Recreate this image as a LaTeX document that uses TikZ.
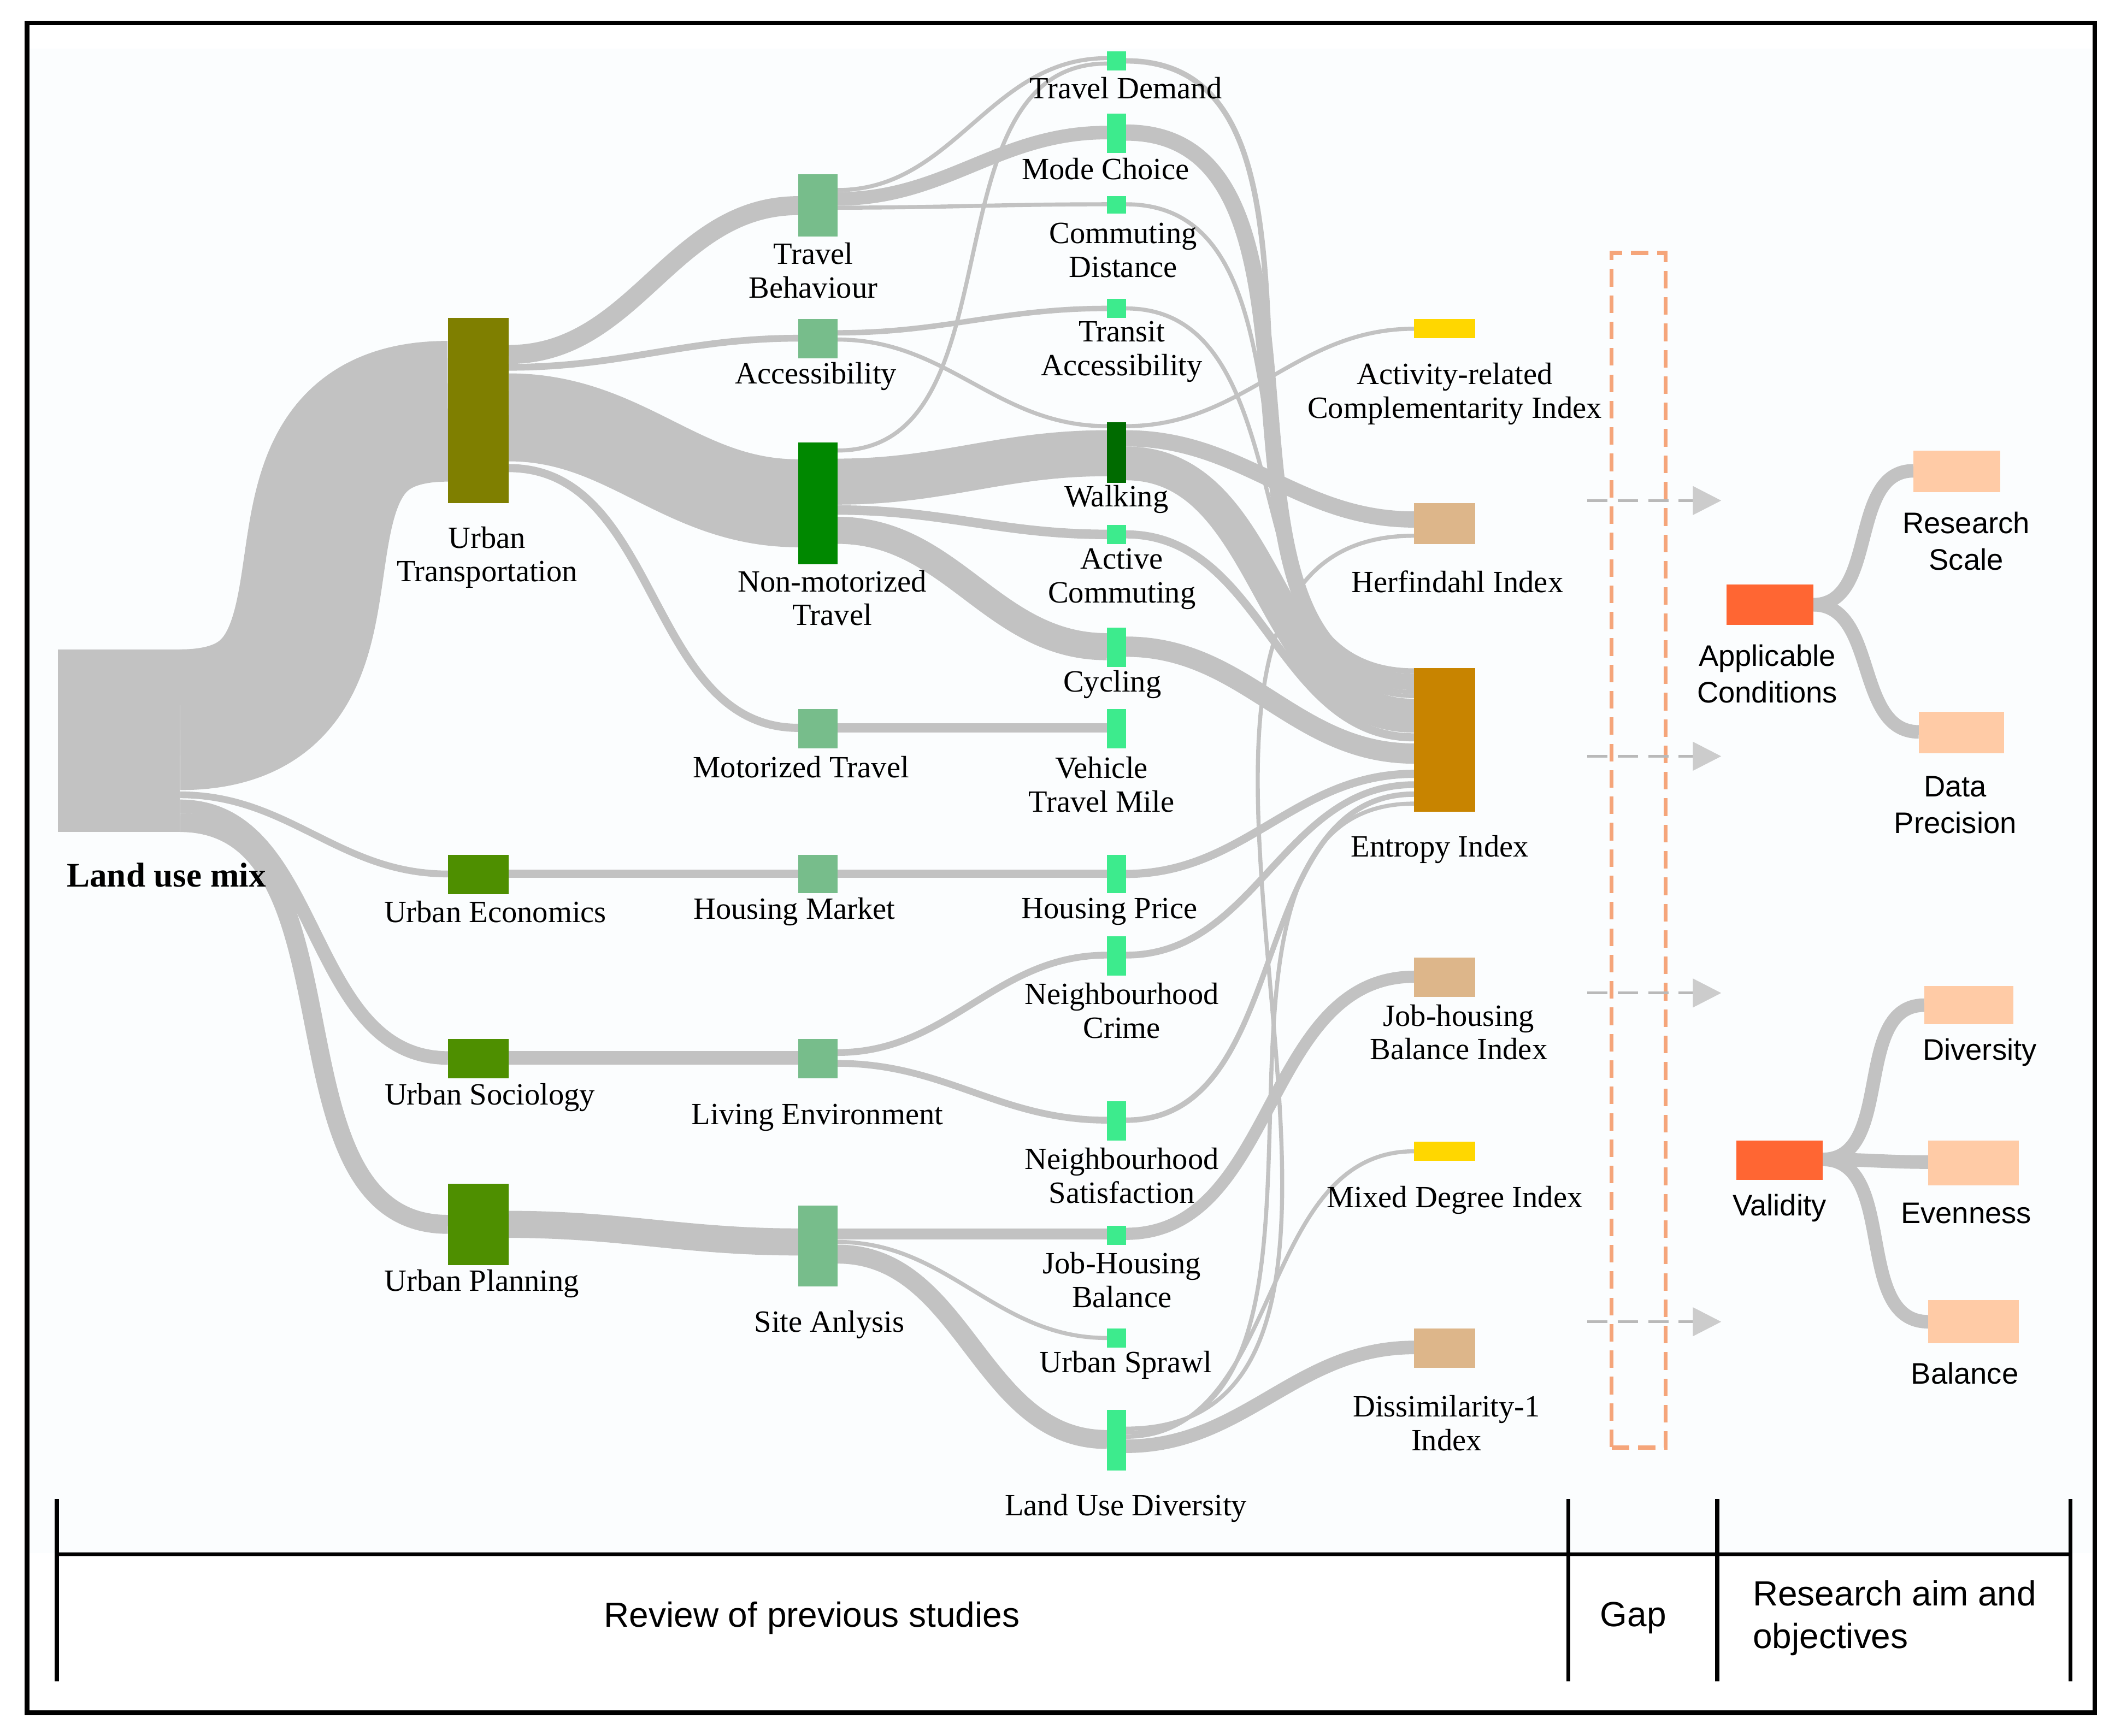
\documentclass[tikz,border=0pt]{standalone}
\usepackage{fontspec}
\setmainfont{Liberation Serif}
\newfontfamily\sansf{Liberation Sans}
\usetikzlibrary{arrows.meta,backgrounds}
\definecolor{flowc}{HTML}{C2C2C2}
\definecolor{olivec}{HTML}{7F7F00}
\definecolor{ugreen}{HTML}{4E8F00}
\definecolor{lgreen}{HTML}{77BD8B}
\definecolor{dgreen}{HTML}{008800}
\definecolor{bgreen}{HTML}{3DEB8D}
\definecolor{wgreen}{HTML}{006B00}
\definecolor{yel}{HTML}{FFD700}
\definecolor{tan}{HTML}{DDB68A}
\definecolor{ent}{HTML}{C88400}
\definecolor{redo}{HTML}{FF6633}
\definecolor{peach}{HTML}{FFCBA6}
\definecolor{dorange}{HTML}{F5A57A}
\definecolor{tint}{HTML}{FBFDFE}
\tikzset{
 box/.style={rectangle,inner sep=0,outer sep=0,draw=none},
 flow/.style={draw=flowc},
 lab/.style={align=center,font=\fontsize{13}{14.2}\selectfont,inner sep=0},
 slab/.style={align=center,font=\sansf\fontsize{12.5}{15.5}\selectfont,inner sep=0},
 blab/.style={font=\sansf\fontsize{14.7}{17}\selectfont,inner sep=0},
 gar/.style={draw=gray!55,line width=0.04cm,dash pattern=on 0.3cm off 0.15cm,-{Triangle[length=0.42cm,width=0.42cm,color=gray!40,fill=gray!40]}},
}
\newcommand\bx[6]{\node[box,fill=#6,minimum width={(#4-#2)*0.02cm},minimum height={(#5-#3)*0.02cm}] (#1) at ({(#2+#4)/2},{(#3+#5)/2}) {};}
\newcommand\fl[5]{\draw[flow,line width=#1*0.02cm] (#2.east |- 0,#3) to[out=0,in=180] (#4.west |- 0,#5);}
\begin{document}
\begin{tikzpicture}[x=0.02cm,y=-0.02cm]
\useasboundingbox (0,0) rectangle (1563,1283);
% nodes
\bx{LUM}{43}{480}{133}{615}{flowc}
\bx{UT}{331}{235}{376}{372}{olivec}
\bx{UE}{331}{632}{376}{661}{ugreen}
\bx{US}{331}{768}{376}{797}{ugreen}
\bx{UP}{331}{875}{376}{935}{ugreen}
\bx{TB}{590}{129}{619}{175}{lgreen}
\bx{Acc}{590}{236}{619}{265}{lgreen}
\bx{NMT}{590}{327}{619}{417}{dgreen}
\bx{MT}{590}{524}{619}{553}{lgreen}
\bx{HM}{590}{632}{619}{660}{lgreen}
\bx{LE}{590}{768}{619}{797}{lgreen}
\bx{SA}{590}{891}{619}{951}{lgreen}
\bx{TD}{818}{38}{832}{52}{bgreen}
\bx{MC}{818}{84}{832}{113}{bgreen}
\bx{CD}{818}{145}{832}{158}{bgreen}
\bx{TA}{818}{221}{832}{235}{bgreen}
\bx{Walk}{818}{312}{832}{357}{wgreen}
\bx{AC}{818}{388}{832}{402}{bgreen}
\bx{Cyc}{818}{464}{832}{493}{bgreen}
\bx{VTM}{818}{524}{832}{553}{bgreen}
\bx{HP}{818}{632}{832}{660}{bgreen}
\bx{NC}{818}{692}{832}{721}{bgreen}
\bx{NS}{818}{814}{832}{843}{bgreen}
\bx{JHB}{818}{906}{832}{920}{bgreen}
\bx{USp}{818}{982}{832}{996}{bgreen}
\bx{LUD}{818}{1042}{832}{1087}{bgreen}
\bx{ARCI}{1045}{236}{1090}{250}{yel}
\bx{HI}{1045}{372}{1090}{402}{tan}
\bx{EI}{1045}{494}{1090}{600}{ent}
\bx{JHBI}{1045}{708}{1090}{737}{tan}
\bx{MDI}{1045}{844}{1090}{858}{yel}
\bx{DI}{1045}{982}{1090}{1011}{tan}
\bx{APC}{1276}{432}{1340}{462}{redo}
\bx{RS}{1414}{333}{1478}{364}{peach}
\bx{DP}{1418}{526}{1481}{557}{peach}
\bx{VAL}{1283}{843}{1347}{872}{redo}
\bx{DIV}{1422}{729}{1488}{757}{peach}
\bx{EVE}{1425}{843}{1492}{876}{peach}
\bx{BAL}{1425}{961}{1492}{993}{peach}
% flows
\begin{pgfonlayer}{background}
\fill[tint] (22,36) rectangle (1546,1148);
\draw[flow,line width=104*0.02cm] (LUM.east |- 0,532) to[out=0,in=180,looseness=1.4] (UT.west |- 0,304);
\fl{5}{LUM}{587.5}{UE}{646}
\fl{10}{LUM}{596}{US}{782}
\fl{14}{LUM}{608}{UP}{905}
\fl{14}{UT}{262}{TB}{152}
\fl{5}{UT}{271.5}{Acc}{250}
\fl{65}{UT}{308.5}{NMT}{372}
\fl{6}{UT}{346}{MT}{538}
\fl{3}{TB}{140.5}{TD}{43}
\fl{10}{TB}{147}{MC}{98}
\fl{3}{TB}{153.5}{CD}{151}
\fl{4}{Acc}{246}{TA}{228}
\fl{3}{Acc}{251}{Walk}{315}
\fl{3}{NMT}{333}{TD}{47}
\fl{34}{NMT}{356}{Walk}{335}
\fl{7}{NMT}{377}{AC}{395}
\fl{20}{NMT}{392}{Cyc}{478}
\fl{7}{MT}{538}{VTM}{538}
\fl{6}{UE}{646}{HM}{646}
\fl{6}{HM}{646}{HP}{646}
\fl{10}{US}{782}{LE}{782}
\fl{5}{LE}{778}{NC}{706}
\fl{5}{LE}{786}{NS}{828}
\fl{20}{UP}{905}{SA}{918}
\fl{8}{SA}{912}{JHB}{912}
\fl{3}{SA}{918}{USp}{989}
\fl{14}{SA}{927}{LUD}{1064}
\fl{4}{TD}{45}{EI}{496}
\fl{12}{MC}{98}{EI}{504}
\fl{3}{CD}{151}{EI}{511.5}
\fl{3}{TA}{228}{EI}{514.5}
\fl{3}{Walk}{315}{ARCI}{243}
\fl{12}{Walk}{324}{HI}{384}
\fl{25}{Walk}{342.5}{EI}{529}
\fl{6}{AC}{395}{EI}{545}
\fl{15}{Cyc}{478}{EI}{557}
\fl{6}{HP}{646}{EI}{572}
\fl{5}{NC}{706}{EI}{580}
\fl{4}{NS}{828}{EI}{587}
\fl{9}{JHB}{912}{JHBI}{722}
\fl{3}{LUD}{1056}{HI}{396}
\fl{3}{LUD}{1059}{EI}{594}
\fl{3}{LUD}{1062}{MDI}{851}
\fl{10}{LUD}{1069}{DI}{996}
\fl{10}{APC}{447}{RS}{348}
\fl{10}{APC}{447}{DP}{541}
\fl{10}{VAL}{857}{DIV}{743}
\fl{10}{VAL}{857}{EVE}{859}
\fl{10}{VAL}{857}{BAL}{977}
\end{pgfonlayer}
% labels
\node[lab,font=\bfseries\fontsize{14.5}{16}\selectfont] (LUMl) at (123,647) {Land use mix};
\node[lab] (UTl) at (360,412) {Urban\\Transportation};
\node[lab] (UEl) at (366,674) {Urban Economics};
\node[lab] (USl) at (362,811) {Urban Sociology};
\node[lab] (UPl) at (356,949) {Urban Planning};
\node[lab] (TBl) at (601,200) {Travel\\Behaviour};
\node[lab] (Accl) at (603,278) {Accessibility};
\node[lab] (NMTl) at (615,442) {Non-motorized\\Travel};
\node[lab] (MTl) at (592,567) {Motorized Travel};
\node[lab] (HMl) at (587,674) {Housing Market};
\node[lab] (LEl) at (604,826) {Living Environment};
\node[lab] (SAl) at (613,979) {Site Anlysis};
\node[lab] (TDl) at (832,65) {Travel Demand};
\node[lab] (MCl) at (817,125) {Mode Choice};
\node[lab] (CDl) at (830,185) {Commuting\\Distance};
\node[lab] (TAl) at (829,260) {Transit\\Accessibility};
\node[lab] (Walkl) at (825,369) {Walking};
\node[lab] (ACl) at (829,428) {Active\\Commuting};
\node[lab] (Cycl) at (822,506) {Cycling};
\node[lab] (VTMl) at (814,580) {Vehicle\\Travel Mile};
\node[lab] (HPl) at (820,674) {Housing Price};
\node[lab] (NCl) at (829,747) {Neighbourhood\\Crime};
\node[lab] (NSl) at (829,869) {Neighbourhood\\Satisfaction};
\node[lab] (JHBl) at (829,946) {Job-Housing\\Balance};
\node[lab] (USpl) at (832,1009) {Urban Sprawl};
\node[lab] (LUDl) at (832,1115) {Land Use Diversity};
\node[lab] (ARCIl) at (1075,291) {Activity-related\\Complementarity Index};
\node[lab] (HIl) at (1077,430) {Herfindahl Index};
\node[lab] (EIl) at (1064,628) {Entropy Index};
\node[lab] (JHBIl) at (1078,763) {Job-housing\\Balance Index};
\node[lab] (MDIl) at (1075,887) {Mixed Degree Index};
\node[lab] (DIl) at (1069,1052) {Dissimilarity-1\\Index};
\node[slab] (APCl) at (1306,498) {Applicable\\Conditions};
\node[slab] (RSl) at (1453,400) {Research\\Scale};
\node[slab] (DPl) at (1445,595) {Data\\Precision};
\node[slab] (VALl) at (1315,893) {Validity};
\node[slab] (DIVl) at (1463,778) {Diversity};
\node[slab] (EVEl) at (1453,897) {Evenness};
\node[slab] (BALl) at (1452,1015) {Balance};
% gap box and arrows
\node[box,draw=dorange,line width=0.06cm,dash pattern=on 0.26cm off 0.13cm,minimum width=0.8cm,minimum height={883*0.02cm}] (GAP) at (1211,628.5) {};
\foreach \n/\yy in {a/370,b/559,c/734,d/977}{
 \coordinate (s\n) at (1173,\yy); \coordinate (e\n) at (1272,\yy);
 \draw[gar] (s\n) -- (e\n);}
% frame and table
\draw[line width=0.07cm] (20,17) rectangle (1548,1266);
\coordinate (t1) at (42,1149); \coordinate (t2) at (1530,1149);
\draw[line width=0.06cm] (t1) -- (t2);
\foreach \xx in {42,1159,1269,1530}{\draw[line width=0.06cm] (\xx,1108) -- (\xx,1243);}
\node[blab] (R1) at (600,1196) {Review of previous studies};
\node[blab] (R2) at (1207,1196) {Gap};
\node[blab,align=left,anchor=west,font=\sansf\fontsize{14.7}{18}\selectfont] (R3) at (1295,1196) {Research aim and\\objectives};
\end{tikzpicture}
\end{document}
